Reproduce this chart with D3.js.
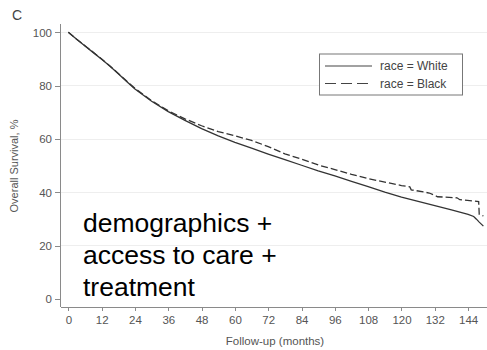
<!DOCTYPE html>
<html>
<head>
<meta charset="utf-8">
<title>Overall survival by race</title>
<style>
  body { margin: 0; background: #fff; }
  svg { display: block; font-family: "Liberation Sans", Arial, sans-serif; }
  .axis path, .axis line { stroke: #8a8a8a; shape-rendering: crispEdges; }
  .axis text { fill: #555; font-size: 11.5px; }
  .grid line { stroke: #eeeeee; shape-rendering: crispEdges; }
</style>
</head>
<body>
<svg width="487" height="350"></svg>
<script src="https://cdn.jsdelivr.net/npm/d3@7"></script>
<script>
// Kaplan-Meier estimates (months, % surviving)
var whiteMonths = [0, 3, 6, 9, 12, 15, 18, 21, 24, 30, 36, 42, 48, 54, 60, 66, 72, 78, 84, 90, 96, 102, 108, 114, 120, 126, 132, 138, 144, 146, 147, 148, 149.5];
var whiteSurv   = [100, 97.4, 94.9, 92.4, 89.9, 87.3, 84.5, 81.6, 78.8, 74.2, 70.3, 67, 63.9, 61.2, 58.8, 56.6, 54.4, 52.3, 50.2, 48.1, 46.2, 44.2, 42.2, 40.1, 38.3, 36.7, 35.1, 33.5, 31.8, 31, 30, 28.9, 27.4];

var blackMonths = [0, 3, 6, 9, 12, 15, 18, 21, 24, 30, 36, 42, 48, 54, 60, 66, 72, 78, 84, 90, 96, 102, 108, 114, 120, 123, 123.5, 130, 133, 140, 141, 147.8, 148, 149.5];
var blackSurv   = [100, 97.4, 95, 92.5, 90, 87.4, 84.6, 81.8, 79, 74.4, 70.6, 67.6, 65, 62.8, 61.2, 59.5, 57.2, 54.5, 52.5, 50.3, 48.6, 46.8, 45.2, 43.9, 42.6, 42.1, 41, 39.8, 38.4, 38, 37.3, 36.6, 31.8, 31.2];

var xTicks = [0, 12, 24, 36, 48, 60, 72, 84, 96, 108, 120, 132, 144];
var yTicks = [0, 20, 40, 60, 80, 100];
var seriesNames = ["race = White", "race = Black"];
var noteLines = ["demographics +", "access to care +", "treatment"];

var svg = d3.select("svg");

var x = d3.scaleLinear().domain([-3, 150.8]).range([60, 487]);
var y = d3.scaleLinear().domain([-2.8, 103.5]).range([306.7, 23]);

// light horizontal gridlines
svg.append("g")
  .attr("class", "grid")
  .selectAll("line")
  .data(yTicks.filter(function(d) { return d > 0; }))
  .enter().append("line")
  .attr("x1", 60).attr("x2", 487)
  .attr("y1", function(d) { return y(d); })
  .attr("y2", function(d) { return y(d); });

// axes
svg.append("g")
  .attr("class", "axis")
  .attr("transform", "translate(60,0)")
  .call(d3.axisLeft(y).tickValues(yTicks).tickSize(5).tickPadding(3).tickSizeOuter(0));

svg.append("g")
  .attr("class", "axis")
  .attr("transform", "translate(0,306.7)")
  .call(d3.axisBottom(x).tickValues(xTicks).tickSize(4).tickPadding(5).tickSizeOuter(0));

// survival curves
var line = d3.line()
  .x(function(d) { return x(d[0]); })
  .y(function(d) { return y(d[1]); });

var whiteData = whiteMonths.map(function(m, i) { return [m, whiteSurv[i]]; });
var blackData = blackMonths.map(function(m, i) { return [m, blackSurv[i]]; });

svg.append("path")
  .datum(blackData)
  .attr("d", line)
  .attr("fill", "none")
  .attr("stroke", "#333")
  .attr("stroke-width", 1.3)
  .attr("stroke-dasharray", "7,3");

svg.append("path")
  .datum(whiteData)
  .attr("d", line)
  .attr("fill", "none")
  .attr("stroke", "#333")
  .attr("stroke-width", 1.3);

// legend
var legend = svg.append("g").attr("transform", "translate(319,53.5)");
legend.append("rect")
  .attr("x", 0.5).attr("y", 0.5)
  .attr("width", 143).attr("height", 41)
  .attr("fill", "#fff")
  .attr("stroke", "#777");

var item = legend.selectAll(".item")
  .data(seriesNames)
  .enter().append("g")
  .attr("class", "item")
  .attr("transform", function(d, i) { return "translate(0," + (12.5 + i * 17.5) + ")"; });

item.append("line")
  .attr("x1", 6).attr("x2", 53)
  .attr("stroke", "#444")
  .attr("stroke-width", 1.1)
  .attr("stroke-dasharray", function(d, i) { return i === 1 ? "11,5" : null; });

item.append("text")
  .attr("x", 61)
  .attr("dy", "0.35em")
  .attr("font-size", 12)
  .attr("fill", "#444")
  .text(function(d) { return d; });

// panel letter and axis titles
svg.append("text")
  .attr("x", 12).attr("y", 20)
  .attr("font-size", 14)
  .attr("fill", "#444")
  .text("C");

svg.append("text")
  .attr("transform", "translate(18,166) rotate(-90)")
  .attr("text-anchor", "middle")
  .attr("font-size", 11)
  .attr("fill", "#555")
  .text("Overall Survival, %");

svg.append("text")
  .attr("x", 275).attr("y", 345)
  .attr("text-anchor", "middle")
  .attr("font-size", 11.5)
  .attr("fill", "#555")
  .text("Follow-up (months)");

// annotation
svg.append("g")
  .selectAll("text")
  .data(noteLines)
  .enter().append("text")
  .attr("x", 83)
  .attr("y", function(d, i) { return 231.5 + i * 32; })
  .attr("font-size", 26.5)
  .attr("fill", "#000")
  .text(function(d) { return d; });
</script>
</body>
</html>
